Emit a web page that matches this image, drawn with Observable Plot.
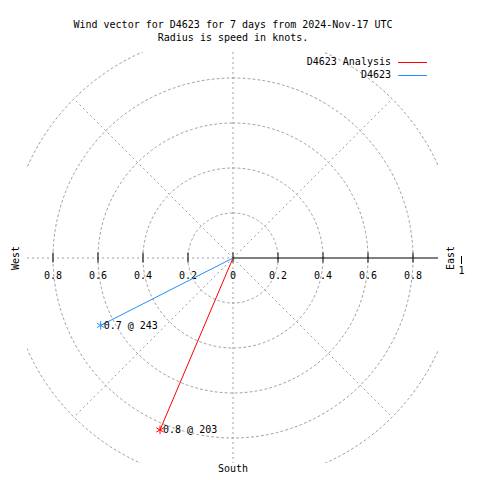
<!DOCTYPE html>
<html>
<head>
<meta charset="utf-8">
<script src="https://cdn.jsdelivr.net/npm/d3@7"></script>
<script src="https://cdn.jsdelivr.net/npm/@observablehq/plot@0.6"></script>
<style>
  html, body { margin: 0; padding: 0; background: #fff; }
  svg { display: block; }
</style>
</head>
<body>
<div id="chart"></div>
<script>
// ---- data ----
const seriesNames = ["D4623 Analysis", "D4623"];
const seriesColors = ["#ff0000", "#1e90ff"];
const speeds = [0.83, 0.66];          // knots (radius)
const directions = [203, 243];        // degrees
const speedLabels = ["0.8", "0.7"];
const ringRadii = [0.2, 0.4, 0.6, 0.8, 1.0];
const diagAngles = [45, 135, 225, 315];
const tickValues = [-0.8, -0.6, -0.4, -0.2, 0, 0.2, 0.4, 0.6, 0.8];
const tickLabels = ["0.8", "0.6", "0.4", "0.2", "0", "0.2", "0.4", "0.6", "0.8"];
const titleLines = ["Wind vector for D4623 for 7 days from 2024-Nov-17 UTC", "Radius is speed in knots."];
const R = 0.9133;

const rad = a => a * Math.PI / 180;
const ringPts = ringRadii.flatMap(r => d3.range(0, 361, 1).map(a => ({r, x: r * Math.sin(rad(a)), y: r * Math.cos(rad(a))})));
const diags = diagAngles.map(a => ({x: Math.sin(rad(a)), y: Math.cos(rad(a))}));
const vectors = seriesNames.map((name, i) => ({
  name, color: seriesColors[i],
  x: speeds[i] * Math.sin(rad(directions[i])),
  y: speeds[i] * Math.cos(rad(directions[i])),
  label: `${speedLabels[i]} @ ${directions[i]}`
}));

const gray = "#a0a0a0";
const dash = "2,3";
const font = "DejaVu Sans Mono";

const chart = Plot.plot({
  width: 480,
  height: 480,
  marginLeft: 27,
  marginRight: 42,
  marginTop: 52,
  marginBottom: 17,
  x: {domain: [-R, R], axis: null},
  y: {domain: [-R, R], axis: null},
  style: {fontFamily: font, fontSize: "10px", color: "#000", background: "#fff"},
  marks: [
    Plot.line(ringPts, {x: "x", y: "y", z: "r", stroke: gray, strokeDasharray: dash, strokeWidth: 1, clip: true}),
    Plot.link(diags, {x1: () => 0, y1: () => 0, x2: "x", y2: "y", stroke: gray, strokeDasharray: dash, clip: true}),
    Plot.ruleX([0], {stroke: gray, strokeDasharray: dash}),
    Plot.ruleY([0], {x1: () => -R, x2: () => 0, stroke: gray, strokeDasharray: dash}),
    Plot.ruleY([0], {x1: () => 0, x2: () => R, stroke: "#000"}),
    Plot.ruleX(tickValues, {x: d => d, y1: () => -0.022, y2: () => 0.022, stroke: "#000"}),
    Plot.text(tickValues, {x: d => d, y: () => -0.08, text: (d, i) => tickLabels[i], fill: "#000"}),
    Plot.link(vectors, {x1: () => 0, y1: () => 0, x2: "x", y2: "y", stroke: "color", strokeWidth: 1}),
    Plot.dot(vectors, {x: "x", y: "y", stroke: "color", symbol: "asterisk", r: 4, strokeWidth: 1}),
    Plot.text(vectors, {x: "x", y: "y", text: "label", textAnchor: "start", dx: 3, fill: "#000"}),
    Plot.text([titleLines[0]], {frameAnchor: "top", dy: -32, text: d => d, fill: "#000"}),
    Plot.text([titleLines[1]], {frameAnchor: "top", dy: -19, text: d => d, fill: "#000"}),
    Plot.text(["South"], {frameAnchor: "bottom", dy: 8, text: d => d, fill: "#000"}),
    Plot.text(["West"], {frameAnchor: "left", dx: -12, rotate: -90, textAnchor: "middle", text: d => d, fill: "#000"}),
    Plot.text(["East"], {frameAnchor: "right", dx: 12, dy: 0, rotate: -90, textAnchor: "middle", text: d => d, fill: "#000"}),
    Plot.text(["1"], {frameAnchor: "right", dx: 23, dy: 13, textAnchor: "middle", text: d => d, fill: "#000"})
  ]
});

// legend (inside the SVG, top right)
const svg = d3.select(chart);
const lg = svg.append("g").attr("font-family", font).attr("font-size", 10);
seriesNames.forEach((name, i) => {
  const y = 62 + i * 13;
  lg.append("text").attr("x", 391).attr("y", y).attr("dy", "0.32em")
    .attr("text-anchor", "end").attr("fill", "#000").text(name);
  lg.append("line").attr("x1", 398).attr("x2", 427).attr("y1", y + 0.5).attr("y2", y + 0.5)
    .attr("stroke", seriesColors[i]).attr("stroke-width", 1);
});
// small bar next to the East label
svg.append("line").attr("x1", 461.5).attr("x2", 461.5).attr("y1", 256).attr("y2", 264).attr("stroke", "#000");

document.getElementById("chart").appendChild(chart);
</script>
</body>
</html>
